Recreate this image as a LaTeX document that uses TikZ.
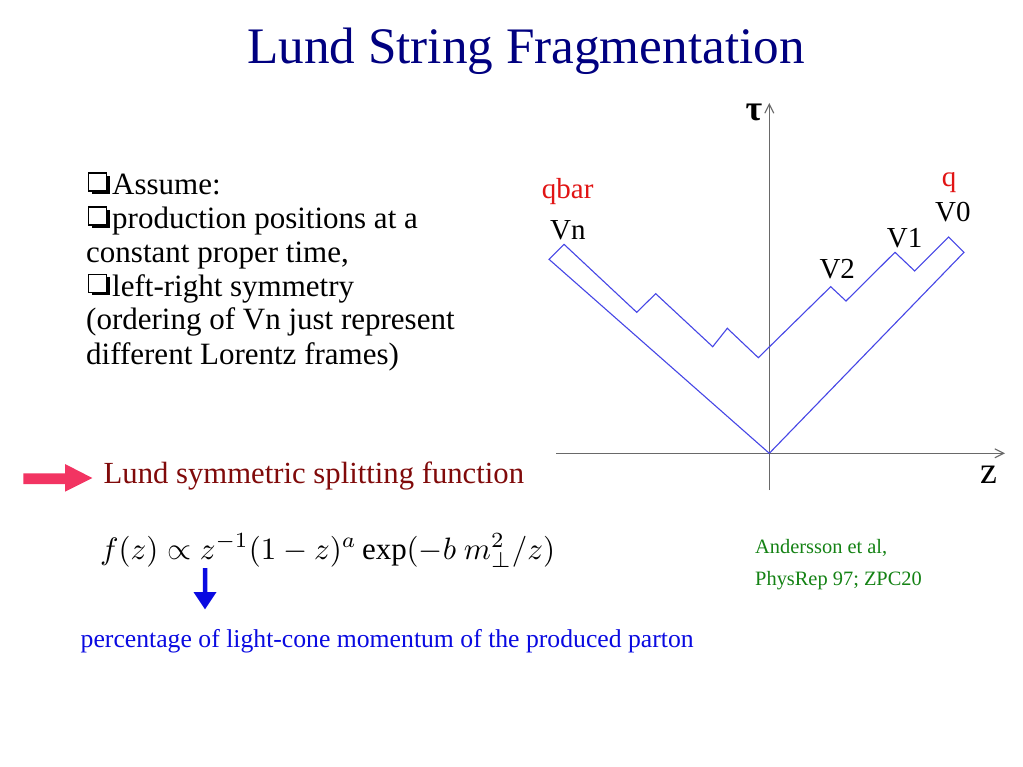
\documentclass[tikz,border=0pt]{standalone}
\usepackage{fontspec}
\setmainfont{Liberation Serif}
\usepackage{amsmath,amssymb}
\usetikzlibrary{arrows.meta}
\definecolor{titleblue}{RGB}{0,0,128}
\definecolor{maroon}{RGB}{128,10,10}
\definecolor{pinkred}{RGB}{242,52,98}
\definecolor{txtblue}{RGB}{10,10,225}
\definecolor{refgreen}{RGB}{20,130,20}
\definecolor{linblue}{RGB}{70,70,230}
\definecolor{axgray}{RGB}{105,105,105}
\definecolor{qred}{RGB}{225,20,20}
\tikzset{
  txt/.style={anchor=base west, inner sep=0pt, font=\fontsize{31}{34}\selectfont},
  lbl/.style={anchor=base west, inner sep=0pt, font=\fontsize{29}{32}\selectfont},
  axisline/.style={draw=axgray, line width=1.2pt, -{Straight Barb[length=9pt,width=9pt,line width=1.1pt]}},
  chk/.pic={
    \fill[black] (3,-19) rectangle (21,-1);
    \filldraw[fill=white, draw=black, line width=1.2pt] (0,-22) rectangle (18,-4);
  }
}
\begin{document}
\begin{tikzpicture}[x=1pt,y=-1pt]
\useasboundingbox (0,0) rectangle (1023,767);
\fill[white] (0,0) rectangle (1023,767);

% title
\node[anchor=base, inner sep=0pt, text=titleblue, font=\fontsize{51.2}{56}\selectfont] (title) at (526,64) {Lund String Fragmentation};

% bullet text
\pic at (88.5,195) {chk};
\node[txt] (l1) at (112,195) {Assume:};
\pic at (88.5,229) {chk};
\node[txt] (l2) at (112,229) {production positions at a};
\node[txt] (l3) at (86,263) {constant proper time,};
\pic at (88.5,296.5) {chk};
\node[txt] (l4) at (112,296.5) {left-right symmetry};
\node[txt] (l5) at (86,330) {(ordering of Vn just represent};
\node[txt] (l6) at (86,364) {different Lorentz frames)};

% pink arrow
\fill[pinkred] (23.3,473.3) -- (65,473.3) -- (65,464) -- (92.3,478) -- (65,491.7) -- (65,484) -- (23.3,484) -- cycle;
\node[txt, text=maroon, font=\fontsize{30.7}{34}\selectfont] (lund) at (103.5,483) {Lund symmetric splitting function};

% formula
\node[inner sep=0pt, anchor=base west] (formula) at (100,559) {\resizebox{455pt}{!}{$f(z)\propto z^{-1}(1-z)^a\exp(-b\ m_\perp^2/z)$}};

% blue arrow
\fill[txtblue] (202.8,568) -- (207.3,568) -- (207.3,592) -- (216.5,592) -- (205,609.3) -- (193.5,592) -- (202.8,592) -- cycle;
\node[anchor=base west, inner sep=0pt, text=txtblue, font=\fontsize{25.7}{28}\selectfont] (perc) at (80.5,647) {percentage of light-cone momentum of the produced parton};

% reference
\node[anchor=base west, inner sep=0pt, text=refgreen, font=\fontsize{20.4}{22}\selectfont] (ref1) at (755,553) {Andersson et al,};
\node[anchor=base west, inner sep=0pt, text=refgreen, font=\fontsize{20.4}{22}\selectfont] (ref2) at (755,585) {PhysRep 97; ZPC20};

% axes
\coordinate (O) at (769.3,453.3);
\coordinate (xl) at (556,453.3);
\coordinate (xr) at (1005,453.3);
\coordinate (yb) at (769.3,490);
\coordinate (yt) at (769.3,103);
\draw[axisline] (xl) -- (xr);
\draw[axisline] (yb) -- (yt);
\node[inner sep=0pt, font=\fontsize{36}{40}\selectfont\bfseries] (taulab) at (754,112) {τ};
\node[anchor=base west, inner sep=0pt, font=\fontsize{38}{40}\selectfont] (zlab) at (980.5,483.5) {z};

% string path
\coordinate (L1) at (549,259.3);
\coordinate (L2) at (564,244.3);
\coordinate (a1) at (636.7,312.3);
\coordinate (a2) at (655.7,293.7);
\coordinate (a3) at (712.7,346.7);
\coordinate (a4) at (727.3,328.3);
\coordinate (a5) at (758.3,357.7);
\coordinate (v2) at (830.7,286.7);
\coordinate (b1) at (846,301);
\coordinate (v1) at (895,252.3);
\coordinate (b2) at (914.7,271);
\coordinate (v0) at (948.7,237);
\coordinate (R) at (964,252.3);
\draw[linblue, line width=1.1pt, line join=miter]
  (O) -- (L1) -- (L2) -- (a1) -- (a2) -- (a3) -- (a4) -- (a5) -- (v2) -- (b1) -- (v1) -- (b2) -- (v0) -- (R) -- cycle;

% labels
\node[lbl, text=qred] (qbar) at (541.7,198.3) {qbar};
\node[lbl] (vn) at (550,240) {Vn};
\node[lbl, text=qred] (q) at (941.7,186.7) {q};
\node[lbl] (lv0) at (935,221.7) {V0};
\node[lbl] (lv1) at (886.7,247.7) {V1};
\node[lbl] (lv2) at (819.3,278.3) {V2};
\end{tikzpicture}
\end{document}
